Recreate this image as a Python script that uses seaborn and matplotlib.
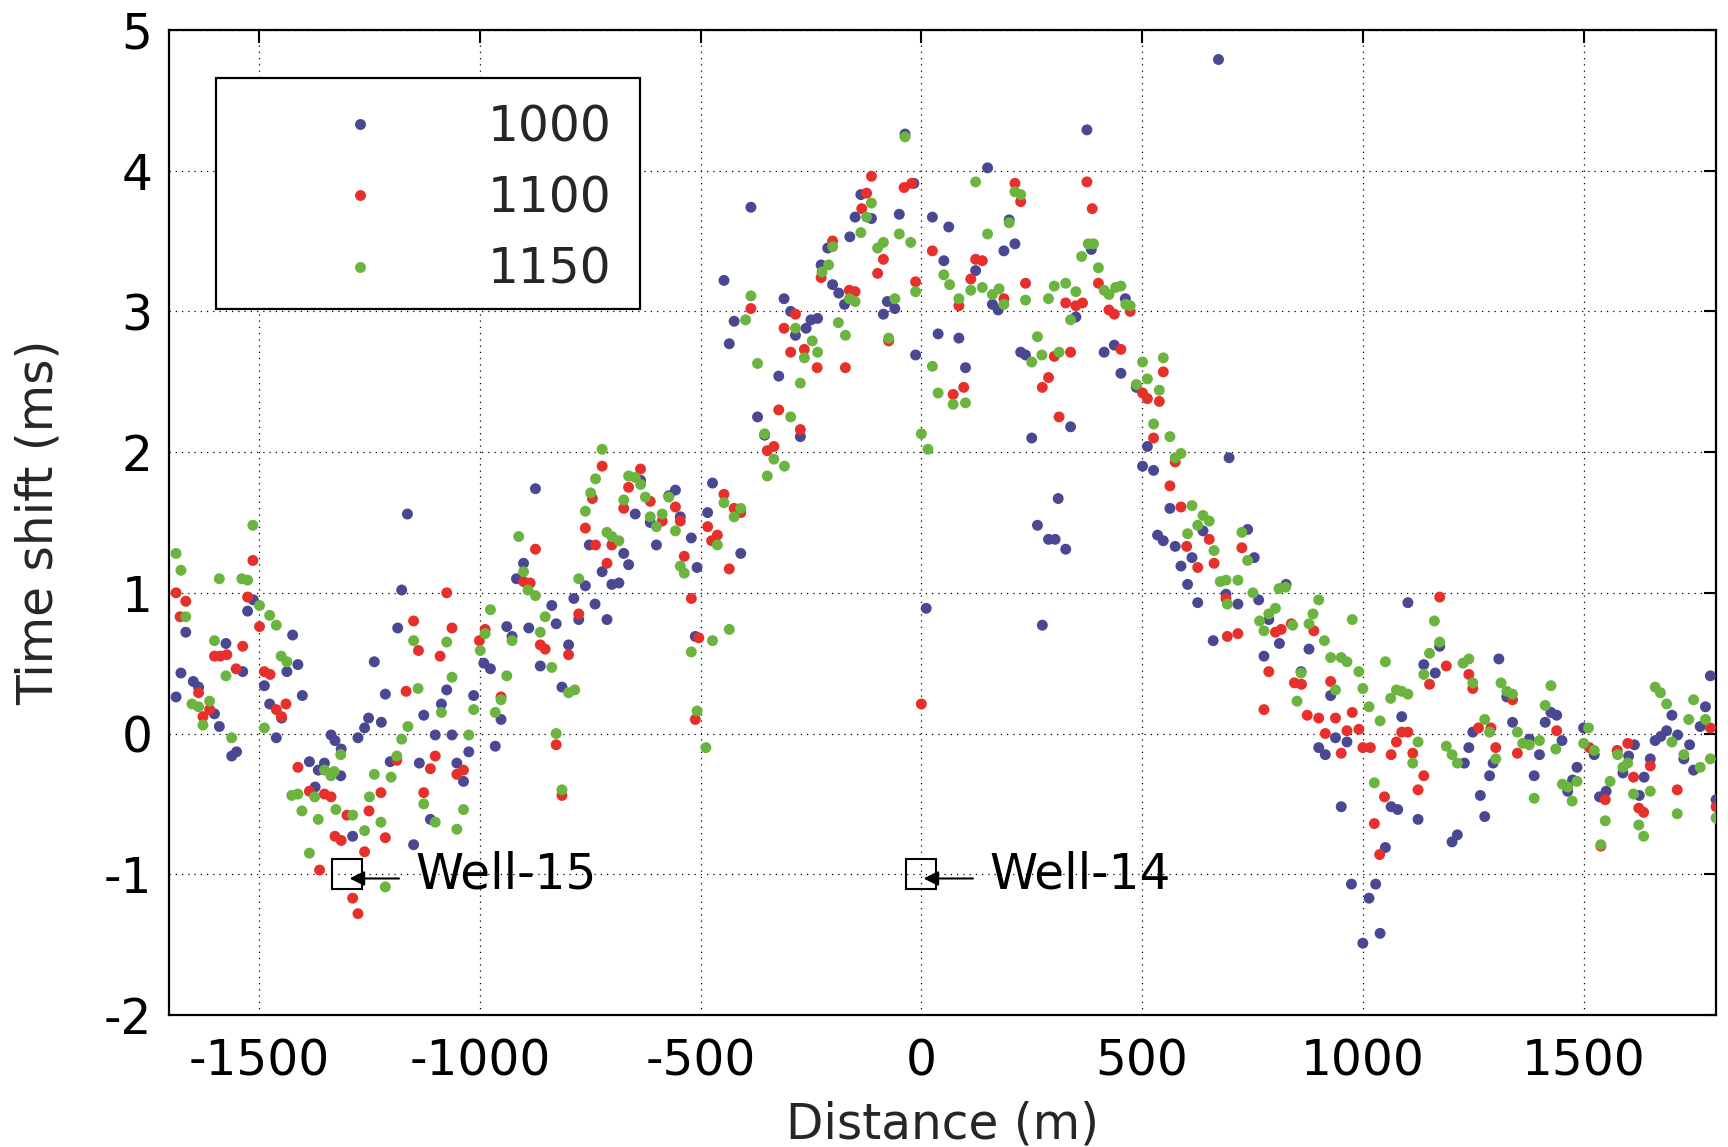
import matplotlib
matplotlib.use("Agg")
import matplotlib.pyplot as plt
from matplotlib.patches import Rectangle
import numpy as np
import pandas as pd
import seaborn as sns

# Series labels (frequency) and their colours
labels = ["1000", "1100", "1150"]
colors = ["#4a4892", "#e7302b", "#6bb43f"]

# Time shift (ms) along the profile, distance in metres
x_1000 = [-1688, -1677, -1666, -1649, -1637, -1601, -1590, -1575, -1562, -1551, -1537, -1526, -1513, -1488, -1476,
          -1461, -1449, -1437, -1424, -1412, -1402, -1386, -1373, -1366, -1352, -1337, -1328, -1315, -1314, -1288,
          -1276, -1261, -1252, -1239, -1223, -1214, -1203, -1186, -1177, -1164, -1150, -1137, -1127, -1112,
          -1101, -1087, -1075, -1063, -1052, -1037, -1025, -1014, -991, -976, -965, -952, -939, -927, -917,
          -901, -889, -874, -863, -837, -827, -814, -799, -787, -776, -761, -752, -739, -723, -712,
          -701, -685, -674, -663, -648, -636, -614, -600, -572, -557, -546, -521, -512, -508,
          -484, -473, -447, -435, -424, -409, -386, -371, -355, -323, -311, -296, -285, -274, -261,
          -250, -235, -227, -212, -201, -187, -174, -162, -150, -137, -113, -86, -77, -60, -50,
          -37, -17, -13, 11, 25, 38, 51, 62, 85,
          100, 123, 150, 161, 174, 187, 199, 212, 225, 236, 250, 263, 274, 288, 303,
          310, 327, 338, 350, 375, 385, 414, 437, 452, 462, 487, 501, 512, 526, 535,
          548, 563, 575, 588, 603, 613, 626, 638, 661, 673, 690, 697,
          717, 739, 754, 764, 776, 787, 811, 826, 860, 878, 900, 915, 927, 938, 951,
          964, 974, 1000, 1014, 1029, 1039, 1051, 1064, 1079, 1088, 1102, 1125, 1138, 1164, 1174,
          1202, 1214, 1230, 1240, 1249, 1266, 1276, 1287, 1295, 1308,
          1326, 1339, 1377, 1388, 1400, 1413, 1426, 1439, 1451, 1464, 1475, 1485, 1500, 1524, 1536,
          1551, 1589, 1602, 1615, 1626, 1637, 1651, 1662, 1675, 1688, 1700, 1713, 1727, 1740, 1749,
          1764, 1776, 1787, 1800]
y_1000 = [0.26, 0.43, 0.72, 0.37, 0.33, 0.14, 0.05, 0.64, -0.16, -0.13, 0.44, 0.87, 0.95, 0.34, 0.21,
          -0.03, 0.11, 0.44, 0.70, 0.49, 0.27, -0.20, -0.38, -0.26, -0.21, -0.01, -0.05, -0.30, -0.11, -0.73,
          -0.03, 0.04, 0.11, 0.51, 0.08, 0.28, -0.20, 0.75, 1.02, 1.56, -0.79, -0.21, 0.13, -0.61,
          -0.01, 0.21, 0.31, -0.01, -0.21, -0.34, -0.13, 0.27, 0.50, 0.46, -0.09, 0.10, 0.76, 0.69, 1.10,
          1.21, 0.75, 1.74, 0.48, 0.91, 0.78, 0.33, 0.63, 0.96, 0.81, 1.05, 1.34, 0.92, 1.15, 0.81,
          1.06, 1.07, 1.28, 1.20, 1.56, 1.80, 1.50, 1.34, 1.69, 1.73, 1.54, 1.39, 0.69, 1.18,
          1.57, 1.78, 3.22, 2.77, 2.93, 1.28, 3.74, 2.25, 2.12, 2.54, 3.09, 3.00, 2.83, 2.11, 2.88,
          2.94, 2.95, 3.33, 3.45, 3.19, 3.13, 3.05, 3.53, 3.67, 3.83, 3.66, 2.98, 3.07, 3.02, 3.69,
          4.26, 3.91, 2.69, 0.89, 3.67, 2.84, 3.36, 3.60, 2.81,
          2.60, 3.29, 4.02, 3.05, 3.01, 3.43, 3.65, 3.48, 2.71, 2.69, 2.10, 1.48, 0.77, 1.38, 1.38,
          1.67, 1.31, 2.18, 2.96, 4.29, 3.44, 2.71, 2.76, 2.56, 3.09, 2.46, 1.90, 2.04, 1.87, 1.41,
          1.37, 1.60, 1.33, 1.19, 1.06, 1.25, 0.93, 1.44, 0.66, 4.79, 0.99, 1.96,
          0.92, 1.45, 1.25, 0.95, 0.55, 0.81, 0.64, 1.06, 0.44, 0.60, -0.10, -0.15, 0.27, -0.03, -0.52,
          -0.06, -1.07, -1.49, -1.17, -1.07, -1.42, -0.81, -0.52, -0.54, 0.12, 0.93, -0.61, 0.49, 0.43, 0.62,
          -0.77, -0.72, -0.21, -0.10, 0.01, -0.44, -0.59, -0.30, -0.21, 0.53,
          0.26, 0.08, -0.04, -0.30, -0.15, 0.08, 0.15, 0.13, -0.05, -0.41, -0.33, -0.24, 0.04, -0.15, -0.45,
          -0.41, -0.28, -0.16, -0.08, -0.44, -0.31, -0.18, -0.05, -0.02, 0.02, 0.13, -0.01, -0.18, -0.08, -0.26,
          0.05, 0.19, 0.41, -0.47]

x_1100 = [-1688, -1679, -1666, -1637, -1627, -1612, -1601, -1588, -1573, -1552, -1537, -1526, -1514, -1499, -1488,
          -1475, -1461, -1449, -1439, -1412, -1386, -1363, -1352, -1337, -1328, -1314, -1301, -1288, -1276, -1261,
          -1251, -1224, -1214, -1188, -1167, -1150, -1139, -1127, -1112,
          -1101, -1090, -1075, -1063, -1052, -1037, -1001, -988, -952, -901, -886, -874, -863, -852, -827,
          -814, -799, -776, -761, -745, -738, -723, -712, -701, -674, -663, -636, -614, -587, -557,
          -546, -537, -521, -512, -504,
          -484, -475, -462, -447, -435, -424, -409, -386, -349, -334, -323, -311, -296, -285, -274,
          -265, -236, -227, -201, -172, -163, -150, -135, -124, -113, -99, -86, -74, -39, -22,
          -13, 0, 25, 72, 85, 96,
          112, 123, 138, 187, 212, 225, 236, 274, 288, 301, 312, 327, 338, 350, 365,
          375, 387, 401, 425, 437, 452, 473, 501, 512, 526, 539, 548, 563, 575, 588,
          601, 626, 652, 663, 690, 693,
          717, 726, 776, 787, 802, 815, 838, 845, 861, 874, 889, 900, 915, 927, 938,
          951, 964, 976, 991, 1000, 1017, 1026, 1038, 1049, 1064, 1076, 1088, 1102, 1113, 1125,
          1138, 1151, 1174, 1189, 1240, 1249, 1262,
          1290, 1301, 1339, 1350, 1439, 1513, 1539, 1549, 1576, 1600, 1613, 1625, 1636, 1651, 1712,
          1787, 1800]
y_1100 = [1.00, 0.83, 0.94, 0.29, 0.12, 0.17, 0.55, 0.55, 0.56, 0.46, 0.62, 0.97, 1.23, 0.76, 0.44,
          0.42, 0.17, 0.12, 0.21, -0.24, -0.41, -0.97, -0.43, -0.45, -0.73, -0.76, -0.58, -1.17, -1.28, -0.84,
          -0.55, -0.42, -0.74, -0.19, 0.30, 0.80, 0.59, -0.42, -0.25,
          -0.16, 0.55, 1.00, 0.75, -0.29, -0.26, 0.66, 0.74, 0.26, 1.08, 1.07, 1.31, 0.63, 0.60, -0.08,
          -0.44, 0.56, 0.85, 1.46, 1.67, 1.34, 1.90, 1.21, 1.34, 1.60, 1.75, 1.88, 1.65, 1.51, 1.61,
          1.51, 1.26, 0.96, 0.10, 0.68,
          1.47, 1.37, 1.41, 1.70, 1.17, 1.60, 1.57, 3.02, 2.01, 2.04, 2.30, 2.88, 2.71, 2.98, 2.16,
          2.73, 2.60, 3.24, 3.50, 2.60, 3.15, 3.14, 3.73, 3.84, 3.96, 3.27, 3.37, 2.79, 3.88, 3.91,
          3.21, 0.21, 3.43, 2.41, 3.04, 2.46,
          3.23, 3.37, 3.36, 3.09, 3.91, 3.78, 3.20, 2.46, 2.53, 2.68, 2.25, 3.06, 2.71, 3.04, 3.06,
          3.92, 3.73, 3.20, 3.01, 2.98, 2.73, 3.00, 2.42, 2.38, 2.10, 2.36, 2.57, 1.76, 1.93, 1.61,
          1.33, 1.18, 1.38, 1.21, 0.96, 0.69,
          0.71, 1.32, 0.17, 0.44, 0.72, 0.74, 0.78, 0.36, 0.35, 0.13, 0.73, 0.11, 0.00, 0.37, 0.11,
          -0.14, 0.02, 0.15, 0.03, -0.10, -0.10, -0.64, -0.86, -0.45, -0.15, -0.06, 0.01, 0.01, -0.14, -0.40,
          -0.30, 0.35, 0.97, 0.48, 0.42, 0.32, 0.04,
          0.04, -0.10, 0.24, -0.14, 0.02, -0.10, -0.80, -0.47, -0.12, -0.07, -0.31, -0.53, -0.56, -0.23, -0.40,
          0.04, -0.52]

x_1150 = [-1688, -1677, -1666, -1652, -1637, -1627, -1612, -1601, -1590, -1575, -1562, -1539, -1526, -1514, -1499,
          -1488, -1476, -1461, -1450, -1437, -1426, -1412, -1403, -1386, -1374, -1366, -1352, -1337, -1330, -1326,
          -1315, -1288, -1261, -1250, -1239, -1224, -1214, -1201, -1188, -1177, -1163, -1150, -1140, -1127,
          -1101, -1087, -1075, -1063, -1052, -1037, -1025, -1014, -999, -988, -976, -965, -952, -939, -927,
          -912, -901, -891, -874, -863, -852, -837, -827, -814, -799, -785, -776, -761, -749, -738,
          -723, -712, -701, -685, -674, -663, -648, -636, -625, -614, -600, -587, -572, -557, -546,
          -537, -521, -508, -488,
          -473, -462, -447, -435, -424, -409, -398, -386, -371, -355, -349, -334, -310, -296, -285,
          -274, -265, -247, -235, -225, -210, -201, -188, -172, -163, -150, -137, -124, -113, -99,
          -86, -74, -60, -50, -37, -24, -13, 0, 15, 25, 38, 51, 64, 72, 85,
          100, 112, 123, 138, 150, 161, 176, 187, 199, 212, 225, 236, 250, 263, 273,
          288, 301, 312, 327, 338, 350, 363, 378, 390, 401, 414, 425, 440, 452, 463,
          473, 487, 501, 512, 526, 539, 548, 563, 575, 588, 603, 613, 626, 638, 652,
          663, 677, 690, 693,
          717, 726, 739, 751, 766, 776, 787, 802, 810, 825, 841, 851, 860, 878, 887,
          900, 913, 927, 938, 951, 964, 976, 991, 1000, 1014, 1026, 1039, 1051, 1063, 1076,
          1088, 1102, 1113, 1125, 1138, 1151, 1162, 1174, 1189, 1202, 1214, 1227, 1240, 1249, 1276,
          1287,
          1301, 1313, 1326, 1339, 1350, 1362, 1377, 1388, 1400, 1413, 1426, 1437, 1452, 1464, 1474,
          1485, 1500, 1511, 1524, 1539, 1549, 1560, 1577, 1589, 1600, 1613, 1625, 1636, 1651, 1662,
          1674, 1688, 1700, 1712, 1727, 1738, 1749, 1764, 1776, 1787, 1800]
y_1150 = [1.28, 1.16, 0.83, 0.21, 0.19, 0.06, 0.23, 0.66, 1.10, 0.41, -0.03, 1.10, 1.09, 1.48, 0.91,
          0.04, 0.84, 0.77, 0.55, 0.51, -0.44, -0.43, -0.55, -0.85, -0.45, -0.61, -0.26, -0.30, -0.27, -0.54,
          -0.15, -0.58, -0.69, -0.45, -0.29, -0.63, -1.09, -0.31, -0.16, -0.04, 0.05, 0.66, 0.32, -0.50,
          -0.63, 0.15, 0.65, 0.40, -0.68, -0.54, -0.01, 0.17, 0.59, 0.71, 0.88, 0.15, 0.24, 0.41, 0.66,
          1.40, 1.15, 1.02, 0.98, 0.72, 0.83, 0.47, 0.00, -0.40, 0.29, 0.31, 1.10, 1.58, 1.71, 1.81,
          2.02, 1.43, 1.40, 1.37, 1.66, 1.83, 1.82, 1.77, 1.68, 1.54, 1.47, 1.56, 1.68, 1.44, 1.19,
          1.14, 0.58, 0.16, -0.10,
          0.66, 1.34, 1.64, 0.74, 1.54, 1.60, 2.94, 3.11, 2.63, 2.13, 1.83, 1.95, 1.90, 2.25, 2.88,
          2.49, 2.67, 2.79, 2.71, 3.28, 3.33, 3.46, 2.92, 2.83, 3.09, 3.07, 3.56, 3.67, 3.77, 3.45,
          3.49, 2.81, 3.09, 3.55, 4.24, 3.49, 3.14, 2.13, 2.02, 2.61, 2.42, 3.26, 3.19, 2.34, 3.09,
          2.35, 3.15, 3.92, 3.17, 3.55, 3.12, 3.16, 3.05, 3.63, 3.85, 3.83, 3.08, 2.64, 2.82, 2.69,
          3.09, 3.18, 2.71, 3.20, 2.94, 3.14, 3.39, 3.48, 3.48, 3.31, 3.15, 3.12, 3.17, 3.18, 3.05,
          3.04, 2.48, 2.64, 2.52, 2.20, 2.44, 2.67, 2.11, 1.96, 1.99, 1.42, 1.62, 1.48, 1.55, 1.51,
          1.30, 1.08, 1.09, 0.92,
          1.09, 1.43, 1.23, 1.00, 0.80, 0.73, 0.85, 0.89, 1.03, 1.04, 0.77, 0.23, 0.43, 0.78, 0.85,
          0.95, 0.66, 0.54, 0.31, 0.54, 0.51, 0.81, 0.44, 0.32, 0.19, -0.35, 0.09, 0.51, 0.25, 0.31,
          0.30, 0.28, -0.21, -0.06, 0.42, 0.57, 0.80, 0.65, -0.09, -0.15, -0.21, 0.50, 0.53, 0.36, 0.10,
          0.01,
          -0.18, 0.36, 0.30, 0.28, 0.01, -0.07, -0.08, -0.46, -0.05, 0.20, 0.34, -0.11, -0.36, -0.38, -0.48,
          -0.34, -0.07, 0.04, -0.12, -0.79, -0.62, -0.34, -0.15, -0.24, -0.21, -0.43, -0.65, -0.73, -0.41, 0.33,
          0.29, 0.21, -0.06, -0.57, -0.15, 0.10, 0.24, -0.24, 0.10, -0.18, -0.60]

# Well locations marked on the profile
well_names = ["Well-15", "Well-14"]
well_x = [-1300, 0]
well_y = [-1.0, -1.0]

x_ticks = [-1500, -1000, -500, 0, 500, 1000, 1500]
y_ticks = [-2, -1, 0, 1, 2, 3, 4, 5]

frames = []
for lab, xs, ys in zip(labels, [x_1000, x_1100, x_1150], [y_1000, y_1100, y_1150]):
    frames.append(pd.DataFrame({"Distance": xs, "Shift": ys, "Freq": lab}))
df = pd.concat(frames, ignore_index=True)

sns.set_style("white")
plt.rcParams["font.family"] = ["DejaVu Sans"]
plt.rcParams["axes.unicode_minus"] = False

FS = 35
DOT = 62

fig = plt.figure(figsize=(17.28, 11.47), dpi=100)
ax = fig.add_axes([0.0978, 0.1151, 0.8953, 0.8588])

sns.scatterplot(data=df, x="Distance", y="Shift", hue="Freq", hue_order=labels,
                palette=colors, s=DOT, linewidth=0, ax=ax, legend=True, zorder=3)

ax.set_xlim(-1704, 1800)
ax.set_ylim(-2, 5)
ax.set_xticks(x_ticks)
ax.set_yticks(y_ticks)
ax.set_xticklabels([str(v) for v in x_ticks])
ax.set_yticklabels([str(v) for v in y_ticks])

ax.grid(True, color="black", linestyle=(0, (1, 4)), linewidth=0.9)
ax.set_axisbelow(True)
ax.tick_params(direction="in", length=9, width=1.5, top=True, right=True,
               labelsize=FS, colors="black")
ax.tick_params(axis="x", pad=16)
ax.tick_params(axis="y", pad=12)
for sp in ax.spines.values():
    sp.set_visible(True)
    sp.set_color("black")
    sp.set_linewidth(1.6)

ax.set_xlabel("Distance (m)", fontsize=FS)
ax.set_ylabel("Time shift (ms)", fontsize=FS)
ax.xaxis.set_label_coords(0.5, -0.087)
ax.yaxis.set_label_coords(-0.0685, 0.5)

# Legend inside a white box at the upper left
handles, _ = ax.get_legend_handles_labels()
if ax.get_legend() is not None:
    ax.get_legend().remove()
box = Rectangle((0.0304, 0.7168), 0.2741, 0.2345, transform=ax.transAxes,
                facecolor="white", edgecolor="black", linewidth=1.6, zorder=4)
ax.add_patch(box)
leg = ax.legend(handles, labels, loc="center left", bbox_to_anchor=(0.092, 0.829),
                frameon=False, fontsize=FS, handlelength=2.0, handletextpad=1.63,
                labelspacing=0.48, borderpad=0, borderaxespad=0)
leg.set_zorder(5)
for h in leg.legend_handles:
    try:
        h.set_markersize(np.sqrt(DOT))
        h.set_markeredgewidth(0)
    except AttributeError:
        h.set_sizes([DOT])

# Well markers with arrow labels
ax.plot(well_x, well_y, linestyle="none", marker="s", markersize=22,
        markerfacecolor="none", markeredgecolor="black", markeredgewidth=1.5, zorder=4)
for name, wx, wy in zip(well_names, well_x, well_y):
    ax.annotate("", xy=(wx + 5, wy - 0.03), xytext=(wx + 117, wy - 0.03),
                arrowprops=dict(arrowstyle="-|>", color="black", lw=1.5,
                                mutation_scale=22, shrinkA=0, shrinkB=0), zorder=4)
    ax.text(wx + 155, wy, name, fontsize=FS, va="center", ha="left", color="black", zorder=4)

fig.savefig("out.png", dpi=100)
